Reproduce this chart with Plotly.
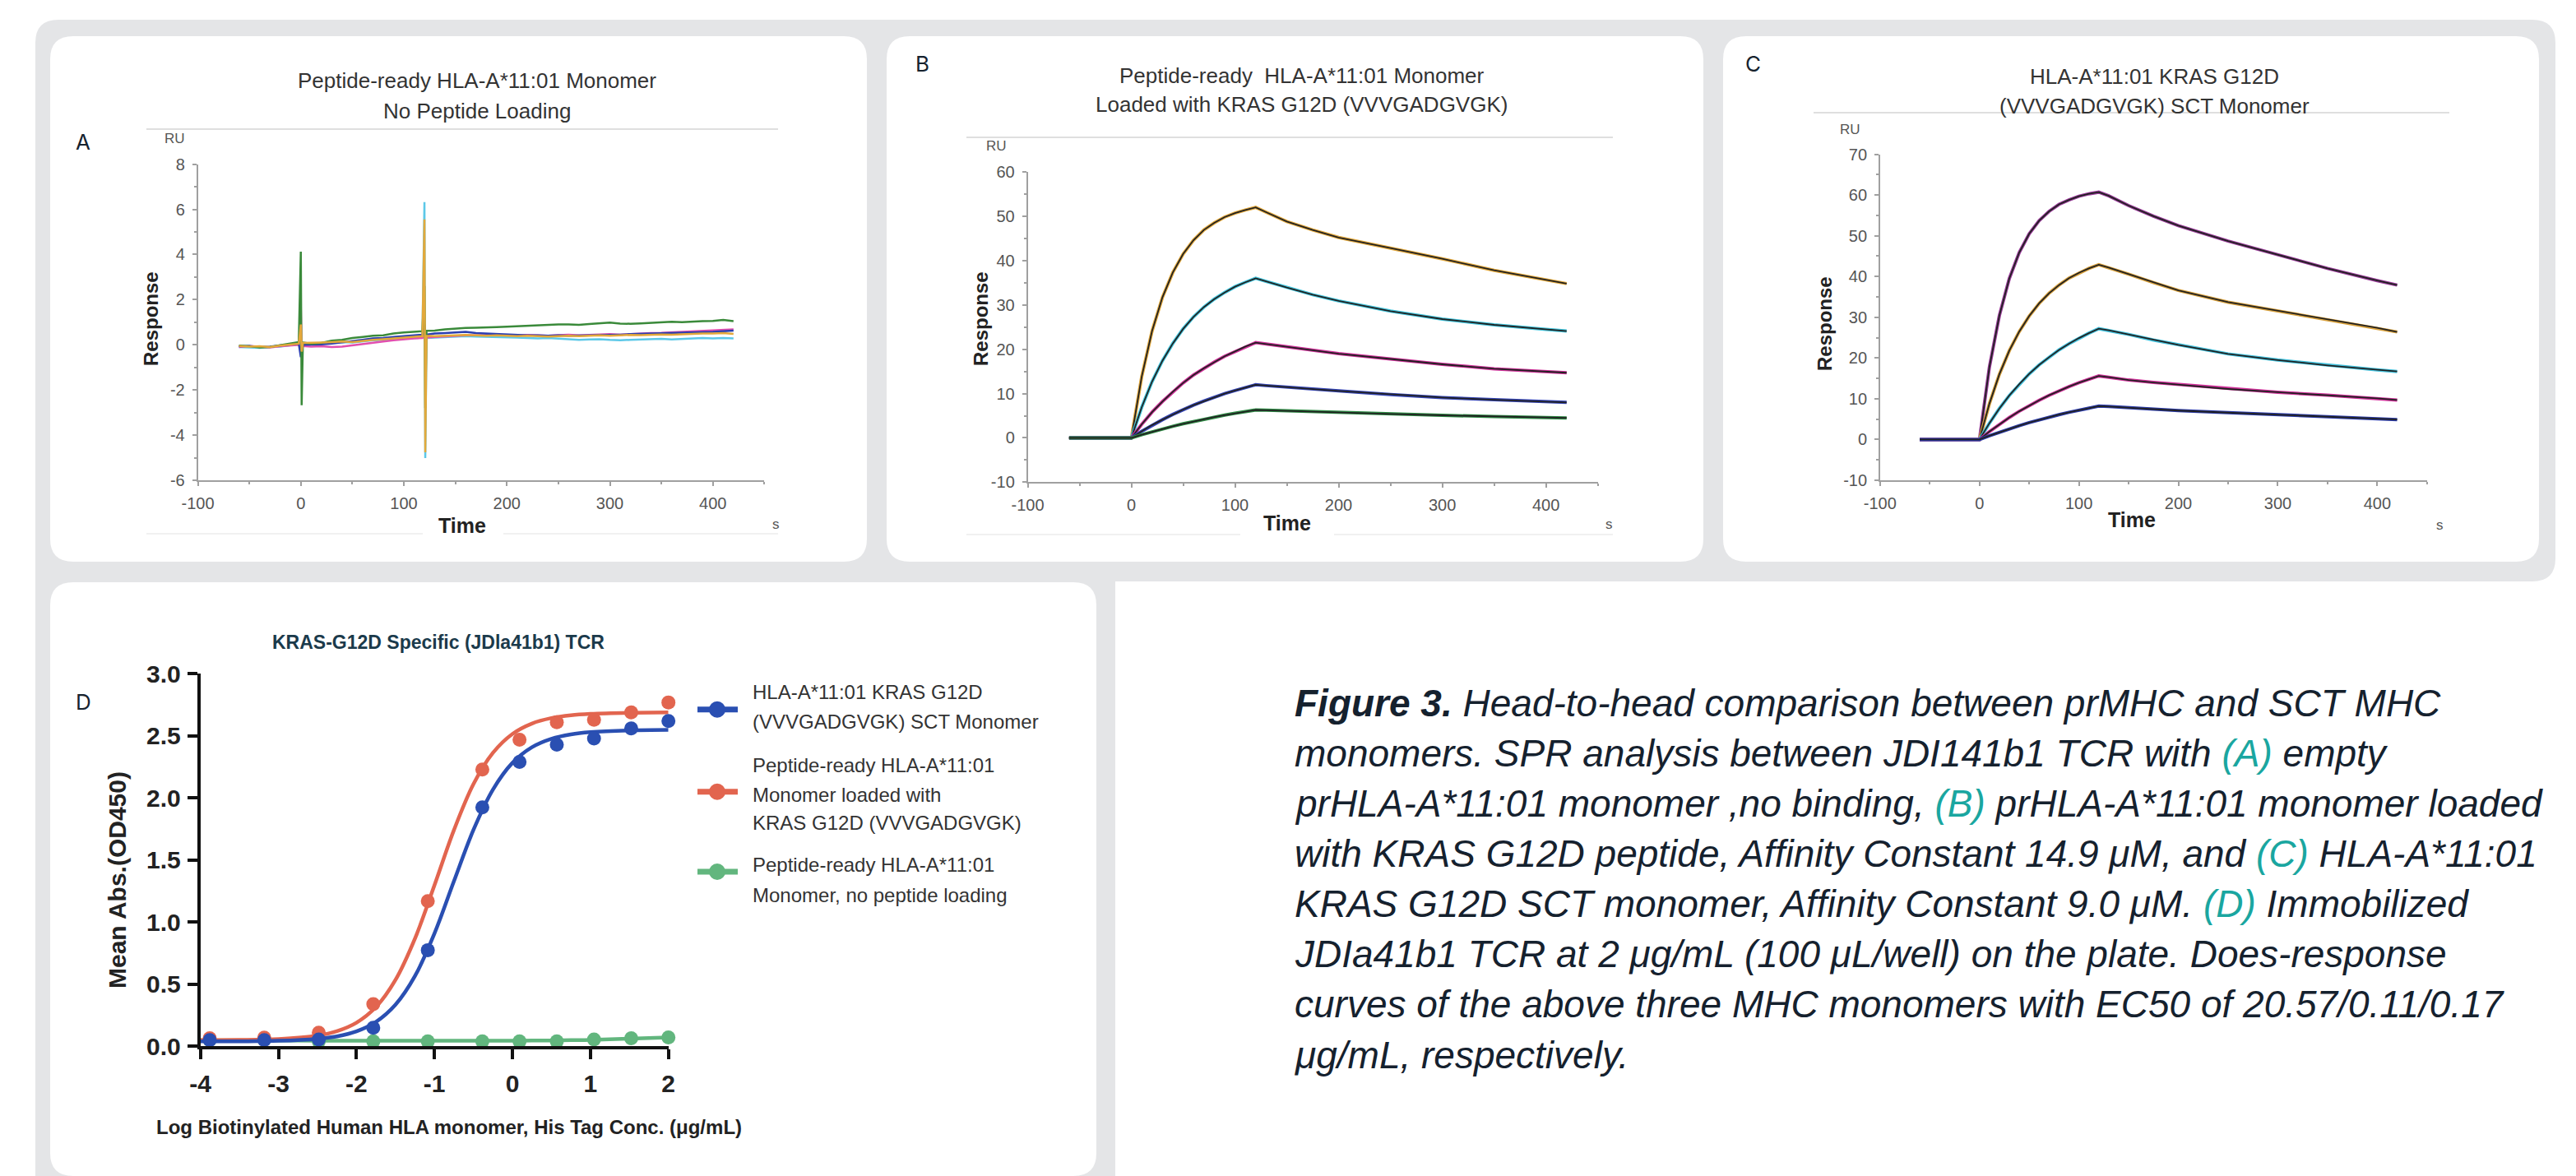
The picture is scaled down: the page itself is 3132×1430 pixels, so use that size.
import plotly.graph_objects as go

# page size and browser body margin (the figure div is offset by 8 px in the page)
PAGE_W, PAGE_H = 3132, 1430
OFF = 8
W, H = PAGE_W - OFF, PAGE_H - OFF

# ---------------- DATA ----------------
# Panel A: SPR sensorgram, no peptide loading (RU vs s)
tA = [-60, -50, -40, -30, -20, -10, -2, 0, 0.8, 2, 10, 20, 30, 40, 50, 60, 70, 80, 90, 100, 110, 118,
      120, 120.8, 122, 130, 140, 150, 160, 170, 180, 190, 200, 210, 220, 230, 240, 250, 260, 270, 280,
      290, 300, 310, 320, 330, 340, 350, 360, 370, 380, 390, 400, 410, 420]
a_green = [-0.04, -0.06, -0.12, -0.1, -0.02, 0.05, 0.12, 4.12, -2.68, 0.1, 0.05, 0.08, 0.18, 0.22, 0.3, 0.35,
           0.4, 0.42, 0.5, 0.55, 0.58, 0.6, 2.6, -2.8, 0.62, 0.63, 0.68, 0.72, 0.75, 0.76, 0.76, 0.78, 0.8,
           0.82, 0.85, 0.85, 0.88, 0.9, 0.9, 0.88, 0.92, 0.95, 0.98, 0.94, 0.93, 0.95, 0.98, 1.0, 1.02, 1.0,
           1.03, 1.05, 1.06, 1.1, 1.05]
a_blue = [-0.06, -0.05, -0.1, -0.08, -0.03, 0.02, 0.05, -0.55, 0.1, 0.0, 0.0, 0.02, 0.05, 0.1, 0.15, 0.22,
          0.28, 0.3, 0.35, 0.38, 0.42, 0.45, 0.9, 0.3, 0.45, 0.5, 0.52, 0.55, 0.57, 0.52, 0.5, 0.48, 0.45,
          0.44, 0.42, 0.42, 0.4, 0.42, 0.4, 0.41, 0.42, 0.43, 0.42, 0.45, 0.47, 0.48, 0.5, 0.5, 0.52, 0.53,
          0.55, 0.56, 0.57, 0.6, 0.63]
a_magenta = [-0.1, -0.05, -0.08, -0.12, -0.06, -0.04, 0.0, 1.62, -0.2, -0.05, -0.08, -0.06, -0.1, -0.08,
             -0.02, 0.05, 0.1, 0.15, 0.2, 0.25, 0.28, 0.3, 0.8, 0.1, 0.32, 0.35, 0.38, 0.4, 0.42, 0.42, 0.43,
             0.45, 0.43, 0.42, 0.44, 0.42, 0.4, 0.43, 0.45, 0.42, 0.44, 0.46, 0.47, 0.45, 0.48, 0.5, 0.52,
             0.53, 0.55, 0.56, 0.58, 0.6, 0.62, 0.65, 0.68]
a_orange = [-0.05, -0.08, -0.06, -0.1, -0.04, 0.0, 0.05, 0.9, -0.3, 0.08, 0.08, 0.1, 0.12, 0.15, 0.12, 0.18,
            0.22, 0.25, 0.28, 0.32, 0.35, 0.38, 5.55, -4.76, 0.4, 0.38, 0.4, 0.42, 0.44, 0.42, 0.4, 0.42, 0.4,
            0.38, 0.4, 0.38, 0.36, 0.38, 0.4, 0.38, 0.4, 0.42, 0.4, 0.42, 0.44, 0.43, 0.45, 0.46, 0.45, 0.47,
            0.48, 0.5, 0.5, 0.52, 0.48]
a_cyan = [-0.1, -0.12, -0.14, -0.1, -0.08, -0.02, 0.02, 0.3, -0.2, 0.05, 0.05, 0.08, 0.1, 0.12, 0.1, 0.15,
          0.2, 0.22, 0.25, 0.28, 0.3, 0.32, 6.32, -5.02, 0.3, 0.32, 0.35, 0.36, 0.38, 0.36, 0.35, 0.34, 0.35,
          0.32, 0.3, 0.28, 0.3, 0.28, 0.25, 0.22, 0.24, 0.25, 0.22, 0.2, 0.22, 0.24, 0.25, 0.26, 0.24, 0.26,
          0.28, 0.3, 0.28, 0.3, 0.28]

# Panels B and C: SPR kinetics (RU vs s)
tK = [-60, -30, 0, 10, 20, 30, 40, 50, 60, 70, 80, 90, 100, 110, 120, 130, 150, 175, 200, 250, 300, 350, 400, 420]
b1 = [0, 0, 0, 13.8, 24.1, 31.7, 37.3, 41.5, 44.6, 46.9, 48.5, 49.8, 50.7, 51.4, 52.0, 50.9, 48.8, 46.9, 45.2, 42.8, 40.4, 37.8, 35.7, 34.8]
b2 = [0, 0, 0, 6.9, 12.7, 17.4, 21.3, 24.6, 27.3, 29.5, 31.3, 32.8, 34.1, 35.1, 36.0, 35.3, 33.9, 32.3, 30.9, 28.6, 26.8, 25.5, 24.5, 24.1]
b3 = [0, 0, 0, 3.05, 5.8, 8.2, 10.4, 12.4, 14.2, 15.7, 17.1, 18.4, 19.5, 20.6, 21.5, 21.2, 20.6, 19.8, 19.0, 17.8, 16.6, 15.6, 14.9, 14.7]
b4 = [0, 0, 0, 1.5, 2.9, 4.1, 5.3, 6.4, 7.4, 8.3, 9.2, 10.0, 10.7, 11.4, 12.0, 11.8, 11.5, 11.0, 10.6, 9.8, 9.1, 8.6, 8.2, 8.0]
b5 = [0, 0, 0, 0.72, 1.39, 2.03, 2.62, 3.19, 3.72, 4.22, 4.69, 5.13, 5.55, 5.94, 6.3, 6.25, 6.1, 5.9, 5.7, 5.4, 5.1, 4.8, 4.6, 4.5]
c1 = [0, 0, 0, 17.8, 30.4, 39.5, 45.9, 50.5, 53.7, 56.0, 57.7, 58.8, 59.7, 60.3, 60.7, 59.8, 57.4, 54.8, 52.5, 48.7, 45.4, 42.0, 39.0, 37.9]
c2 = [0, 0, 0, 8.8, 16.0, 21.8, 26.5, 30.3, 33.4, 35.9, 37.9, 39.6, 40.9, 42.0, 42.9, 42.2, 40.6, 38.5, 36.6, 33.7, 31.6, 29.5, 27.4, 26.4]
c3 = [0, 0, 0, 4.0, 7.6, 10.8, 13.6, 16.1, 18.3, 20.2, 22.0, 23.5, 24.9, 26.1, 27.2, 26.8, 25.8, 24.4, 23.2, 21.0, 19.5, 18.2, 17.1, 16.7]
c4 = [0, 0, 0, 1.95, 3.74, 5.39, 6.93, 8.35, 9.64, 10.85, 11.97, 12.98, 13.94, 14.8, 15.6, 15.3, 14.6, 14.0, 13.5, 12.4, 11.6, 10.9, 10.1, 9.7]
c5 = [0, 0, 0, 0.93, 1.81, 2.64, 3.41, 4.14, 4.83, 5.49, 6.10, 6.67, 7.22, 7.73, 8.2, 8.1, 7.8, 7.4, 7.1, 6.6, 6.1, 5.6, 5.1, 4.9]

# Panel D: ELISA dose-response
d_logc = [-3.881, -3.182, -2.483, -1.784, -1.085, -0.386, 0.091, 0.569, 1.046, 1.523, 2.0]
d_sct = [0.05, 0.05, 0.056, 0.15, 0.775, 1.925, 2.29, 2.43, 2.48, 2.56, 2.62]
d_loaded = [0.066, 0.07, 0.11, 0.34, 1.17, 2.23, 2.47, 2.61, 2.63, 2.69, 2.77]
d_empty = [0.05, 0.056, 0.04, 0.04, 0.04, 0.04, 0.04, 0.04, 0.056, 0.066, 0.072]
fit_x = [-4, -3.5, -3, -2.5, -2.25, -2, -1.75, -1.5, -1.25, -1, -0.75, -0.5, -0.25, 0, 0.25, 0.5, 0.75, 1, 1.5, 2]
fit_sct = [0.040, 0.041, 0.045, 0.061, 0.081, 0.121, 0.197, 0.335, 0.566, 0.909, 1.330, 1.743, 2.068, 2.283,
           2.409, 2.477, 2.513, 2.531, 2.545, 2.549]
fit_loaded = [0.051, 0.052, 0.059, 0.087, 0.123, 0.191, 0.317, 0.535, 0.868, 1.297, 1.742, 2.112, 2.364, 2.516,
              2.600, 2.644, 2.667, 2.678, 2.687, 2.690]
fit_empty = [0.050, 0.049, 0.048, 0.046, 0.045, 0.045, 0.045, 0.045, 0.045, 0.045, 0.045, 0.045, 0.046, 0.046,
             0.047, 0.048, 0.050, 0.052, 0.062, 0.072]

d_names = [["HLA-A*11:01 KRAS G12D", "(VVVGADGVGK) SCT Monomer"],
           ["Peptide-ready HLA-A*11:01", "Monomer loaded with", "KRAS G12D (VVVGADGVGK)"],
           ["Peptide-ready HLA-A*11:01", "Monomer, no peptide loading"]]

caption_lines = [
    "<b>Figure 3.</b> Head-to-head comparison between prMHC and SCT MHC",
    "monomers. SPR analysis between JDI141b1 TCR with {A} empty",
    "prHLA-A*11:01 monomer ,no binding, {B} prHLA-A*11:01 monomer loaded",
    "with KRAS G12D peptide, Affinity Constant 14.9 μM, and {C} HLA-A*11:01",
    "KRAS G12D SCT monomer, Affinity Constant 9.0 μM. {D} Immobilized",
    "JDIa41b1 TCR at 2 μg/mL (100 μL/well) on the plate. Does-response",
    "curves of the above three MHC monomers with EC50 of 20.57/0.11/0.17",
    "μg/mL, respectively.",
]

# ---------------- HELPERS (page pixel -> paper) ----------------
def X(p):
    return (p - OFF) / W


def Y(p):
    return 1 - (p - OFF) / H


def P(x, y):
    return f"{X(x):.6f},{Y(y):.6f}"


def rrect(x0, y0, x1, y1, r):
    return (f"M {P(x0 + r, y0)} L {P(x1 - r, y0)} Q {P(x1, y0)} {P(x1, y0 + r)} "
            f"L {P(x1, y1 - r)} Q {P(x1, y1)} {P(x1 - r, y1)} L {P(x0 + r, y1)} "
            f"Q {P(x0, y1)} {P(x0, y1 - r)} L {P(x0, y0 + r)} Q {P(x0, y0)} {P(x0 + r, y0)} Z")


GRAY = "#e4e5e7"
shapes = []
outer = (f"M {P(43 + 28, 24)} L {P(3107 - 28, 24)} Q {P(3107, 24)} {P(3107, 24 + 28)} "
         f"L {P(3107, 707 - 28)} Q {P(3107, 707)} {P(3107 - 28, 707)} L {P(1356, 707)} "
         f"L {P(1356, 1450)} L {P(43, 1450)} L {P(43, 24 + 28)} Q {P(43, 24)} {P(43 + 28, 24)} Z")
shapes.append(dict(type="path", path=outer, xref="paper", yref="paper", fillcolor=GRAY,
                   line=dict(width=0), layer="below"))
cards = [(61, 44, 1054, 683), (1078, 44, 2071, 683), (2095, 44, 3087, 683), (61, 708, 1333, 1430)]
for (x0, y0, x1, y1) in cards:
    shapes.append(dict(type="path", path=rrect(x0, y0, x1, y1, 28), xref="paper", yref="paper",
                       fillcolor="white", line=dict(width=0), layer="below"))

# thin gray lines (image borders in the original panels)
for (x0, x1, y) in [(178, 946, 157), (1175, 1961, 167), (2205, 2978, 137)]:
    shapes.append(dict(type="line", xref="paper", yref="paper", x0=X(x0), x1=X(x1), y0=Y(y), y1=Y(y),
                       line=dict(color="#d4d4d4", width=1.5), layer="below"))
for (x0, x1, y) in [(178, 514, 649), (612, 946, 649), (1175, 1508, 650), (1622, 1961, 650)]:
    shapes.append(dict(type="line", xref="paper", yref="paper", x0=X(x0), x1=X(x1), y0=Y(y), y1=Y(y),
                       line=dict(color="#ececec", width=1.5), layer="below"))

annotations = []


def ann(x, y, text, size, color="#333", family="Liberation Sans", xanchor="center", yanchor="middle",
        angle=0, weight="normal"):
    annotations.append(dict(x=X(x), y=Y(y), xref="paper", yref="paper", text=text, showarrow=False,
                            xanchor=xanchor, yanchor=yanchor, textangle=angle,
                            font=dict(size=size, color=color, family=family, weight=weight)))


fig = go.Figure()

# ---------------- SPR PANELS ----------------
spr_font = dict(family="Liberation Sans", size=20, color="#555")


def spr_axes(idx, xdom, ydom, yrange, ydt, ymin):
    sfx = "" if idx == 1 else str(idx)
    yt = list(range(yrange[0], yrange[1] + 1, ydt))
    ymt = [v for v in range(yrange[0], yrange[1] + 1, ymin)]
    xt = [-100, 0, 100, 200, 300, 400]
    common = dict(showline=True, linecolor="#a0a0a0", linewidth=1.5, ticks="outside", ticklen=5,
                  tickcolor="#a0a0a0", tickwidth=1.5, showgrid=False, zeroline=False, tickfont=spr_font,
                  automargin=False)
    fig.layout["xaxis" + sfx] = dict(common, domain=[X(xdom[0]), X(xdom[1])], range=[-100, 450],
                                     tickmode="array", tickvals=xt, ticktext=[str(v) for v in xt],
                                     anchor="y" + sfx, ticklabelstandoff=4,
                                     minor=dict(ticks="outside", ticklen=3, tickcolor="#a0a0a0",
                                                tickmode="array", tickvals=[-50, 50, 150, 250, 350, 450]))
    fig.layout["yaxis" + sfx] = dict(common, domain=[Y(ydom[1]), Y(ydom[0])], range=[yrange[0], yrange[1]],
                                     tickmode="array", tickvals=yt, ticktext=[str(v) for v in yt],
                                     anchor="x" + sfx, ticklabelstandoff=5,
                                     minor=dict(ticks="outside", ticklen=3, tickcolor="#a0a0a0",
                                                tickmode="array", tickvals=ymt))


spr_axes(1, (240.5, 929.4), (199.6, 584.0), (-6, 8), 2, 1)
spr_axes(2, (1249.5, 1942.6), (209.0, 586.4), (-10, 60), 10, 5)
spr_axes(3, (2285.8, 2950.8), (187.6, 584.0), (-10, 70), 10, 5)

for y, col in [(a_cyan, "#5cc8e8"), (a_magenta, "#e24fae"), (a_blue, "#2b3fb0"),
               (a_green, "#3a8a3a"), (a_orange, "#e3a83a")]:
    fig.add_trace(go.Scatter(x=tA, y=y, mode="lines", line=dict(color=col, width=2.5),
                             xaxis="x", yaxis="y", showlegend=False, hoverinfo="skip"))

for y, col in [(b1, "#e3a83a"), (b2, "#40c4dc"), (b3, "#d0309a"), (b4, "#3444b4"), (b5, "#2e8a44")]:
    fig.add_trace(go.Scatter(x=tK, y=y, mode="lines", line=dict(color=col, width=4),
                             xaxis="x2", yaxis="y2", showlegend=False, hoverinfo="skip"))
    fig.add_trace(go.Scatter(x=tK, y=y, mode="lines", line=dict(color="#222", width=1.8),
                             xaxis="x2", yaxis="y2", showlegend=False, hoverinfo="skip"))

for y, col in [(c1, "#9a3a9a"), (c2, "#d8a03a"), (c3, "#40c0dc"), (c4, "#d0309a"), (c5, "#2a3aa8")]:
    fig.add_trace(go.Scatter(x=tK, y=y, mode="lines", line=dict(color=col, width=4),
                             xaxis="x3", yaxis="y3", showlegend=False, hoverinfo="skip"))
    fig.add_trace(go.Scatter(x=tK, y=y, mode="lines", line=dict(color="#222", width=1.8),
                             xaxis="x3", yaxis="y3", showlegend=False, hoverinfo="skip"))

# SPR text
TITLE = "#333"
ann(580, 98, "Peptide-ready HLA-A*11:01 Monomer", 26, TITLE)
ann(580, 135, "No Peptide Loading", 26, TITLE)
ann(1583, 92, "Peptide-ready  HLA-A*11:01 Monomer", 26, TITLE)
ann(1583, 127, "Loaded with KRAS G12D (VVVGADGVGK)", 26, TITLE)
ann(2619, 93, "HLA-A*11:01 KRAS G12D", 26, TITLE)
ann(2619, 129, "(VVVGADGVGK) SCT Monomer", 26, TITLE)
for (x, y) in [(213, 168), (1211, 178), (2249, 157)]:
    ann(x, y, "RU", 17, "#555")
for (x, y) in [(943, 637), (1956, 638), (2966, 639)]:
    ann(x, y, "s", 17, "#555")
for (x, y) in [(562, 639), (1565, 636), (2592, 632)]:
    ann(x, y, "Time", 25, "#222", weight="bold")
for (x, y) in [(184, 388), (1193, 388), (2219, 394)]:
    ann(x, y, "Response", 24, "#222", angle=-90, weight="bold")
LETTER = "#16222e"
ann(101, 172, "A", 26, LETTER, family="Inter")
ann(1121, 78, "B", 26, LETTER, family="Inter")
ann(2131, 78, "C", 26, LETTER, family="Inter")
ann(101, 854, "D", 26, LETTER, family="Inter")

# ---------------- PANEL D ----------------
dfont = dict(family="Liberation Sans", size=30, color="#222", weight="bold")
fig.layout.xaxis4 = dict(domain=[X(243.7), X(812.7)], range=[-4, 2], anchor="y4", showline=True,
                         linecolor="#111", linewidth=4, ticks="outside", ticklen=12, tickwidth=4,
                         tickcolor="#111", showgrid=False, zeroline=False, tickmode="array",
                         tickvals=[-4, -3, -2, -1, 0, 1, 2], ticktext=["-4", "-3", "-2", "-1", "0", "1", "2"],
                         tickfont=dfont, ticklabelstandoff=4, automargin=False)
fig.layout.yaxis4 = dict(domain=[Y(1272.4), Y(819.4)], range=[0, 3.0], anchor="x4", showline=True,
                         linecolor="#111", linewidth=4, ticks="outside", ticklen=12, tickwidth=4,
                         tickcolor="#111", showgrid=False, zeroline=False, tickmode="array",
                         tickvals=[0, 0.5, 1.0, 1.5, 2.0, 2.5, 3.0],
                         ticktext=["0.0", "0.5", "1.0", "1.5", "2.0", "2.5", "3.0"],
                         tickfont=dfont, ticklabelstandoff=2, automargin=False)

BLUE, RED, GREEN = "#2a4fb2", "#e2654f", "#62b67e"
for fx, fy, py, col in [(fit_x, fit_empty, d_empty, GREEN), (fit_x, fit_loaded, d_loaded, RED),
                        (fit_x, fit_sct, d_sct, BLUE)]:
    fig.add_trace(go.Scatter(x=fx, y=fy, mode="lines", line=dict(color=col, width=4.5, shape="spline"),
                             xaxis="x4", yaxis="y4", showlegend=False, hoverinfo="skip", cliponaxis=False))
    fig.add_trace(go.Scatter(x=d_logc, y=py, mode="markers", marker=dict(color=col, size=17),
                             xaxis="x4", yaxis="y4", showlegend=False, hoverinfo="skip", cliponaxis=False))

ann(533, 781, "KRAS-G12D Specific (JDla41b1) TCR", 23, "#1b3a4b", weight="bold")
ann(142, 1070, "Mean Abs.(OD450)", 30, "#222", angle=-90, weight="bold")
ann(546, 1370, "Log Biotinylated Human HLA monomer, His Tag Conc. (μg/mL)", 24, "#222", weight="bold")

# manual legend
leg_y = [862.7, 962.7, 1060.0]
leg_text_y = [[841.6, 877.0], [930.0, 966.0, 1000.6], [1051.6, 1088.0]]
for col, yc, names, tys in zip([BLUE, RED, GREEN], leg_y, d_names, leg_text_y):
    shapes.append(dict(type="line", xref="paper", yref="paper", x0=X(848), x1=X(897), y0=Y(yc), y1=Y(yc),
                       line=dict(color=col, width=7)))
    shapes.append(dict(type="circle", xref="paper", yref="paper", x0=X(862), x1=X(882),
                       y0=Y(yc + 10), y1=Y(yc - 10), fillcolor=col, line=dict(width=0)))
    for nm, ty in zip(names, tys):
        ann(913, ty, nm, 24, "#333", xanchor="left")

# ---------------- CAPTION ----------------
TEAL = "#1aa6a0"
cap_y = [855, 916, 977, 1038, 1099, 1160, 1221, 1283]
for line, cy in zip(caption_lines, cap_y):
    for k in "ABCD":
        line = line.replace("{" + k + "}", f"<span style='color:{TEAL}'>({k})</span>")
    annotations.append(dict(x=X(1572), y=Y(cy), xref="paper", yref="paper", text="<i>" + line + "</i>",
                            showarrow=False, xanchor="left", yanchor="middle",
                            font=dict(size=46, color="#15212e", family="Liberation Sans")))

fig.update_layout(width=W, height=H, margin=dict(l=0, r=0, t=0, b=0, autoexpand=False),
                  paper_bgcolor="white", plot_bgcolor="rgba(0,0,0,0)", shapes=shapes,
                  annotations=annotations, showlegend=False)

fig.write_html("out.html")
